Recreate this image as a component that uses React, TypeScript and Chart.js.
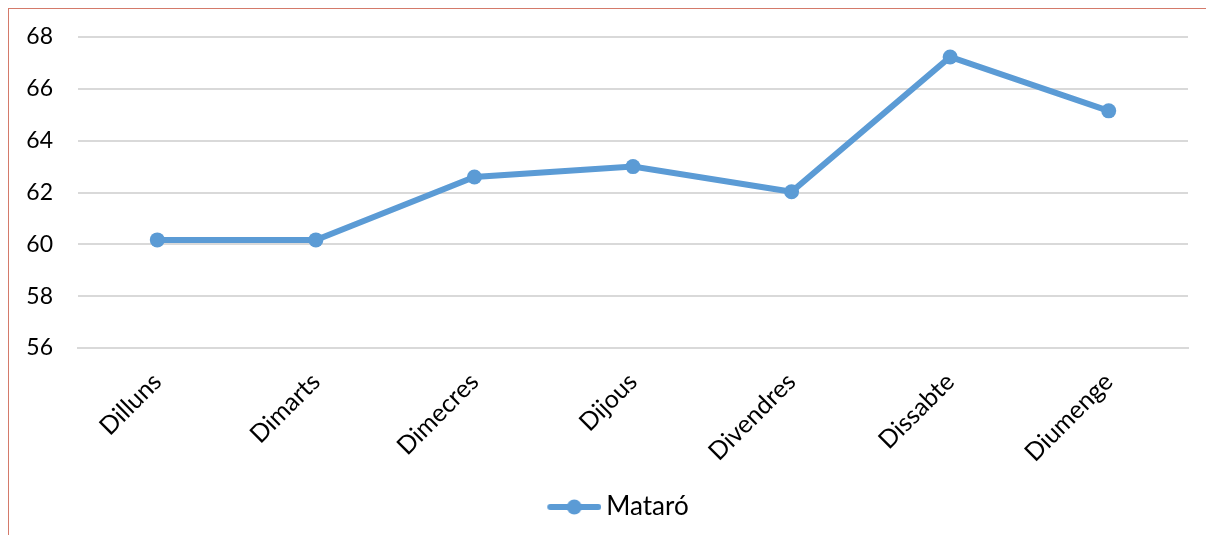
import React, { useEffect, useRef } from "react";
import { Chart, registerables } from "chart.js";

Chart.register(...registerables);

const categories = ["Dilluns", "Dimarts", "Dimecres", "Dijous", "Divendres", "Dissabte", "Diumenge"];
const seriesName = "Mataró";
const values = [60.17, 60.17, 62.6, 63.0, 62.03, 67.23, 65.15];
const yMin = 56;
const yMax = 68;
const yStep = 2;

const LINE_COLOR = "#5b9bd5";
const FONT = "Lato, 'Open Sans', sans-serif";

function makeLegendIcon(): HTMLCanvasElement {
  const c = document.createElement("canvas");
  c.width = 84;
  c.height = 18;
  const ctx = c.getContext("2d")!;
  ctx.strokeStyle = LINE_COLOR;
  ctx.lineWidth = 6;
  ctx.lineCap = "round";
  ctx.beginPath();
  ctx.moveTo(33, 9);
  ctx.lineTo(81, 9);
  ctx.stroke();
  ctx.fillStyle = LINE_COLOR;
  ctx.beginPath();
  ctx.arc(57, 9, 7.5, 0, Math.PI * 2);
  ctx.fill();
  return c;
}

export default function App() {
  const ref = useRef<HTMLCanvasElement | null>(null);
  useEffect(() => {
    if (!ref.current) return;
    const chart = new Chart(ref.current, {
      type: "line",
      data: {
        labels: categories,
        datasets: [
          {
            label: seriesName,
            data: values,
            borderColor: LINE_COLOR,
            backgroundColor: LINE_COLOR,
            borderWidth: 6,
            pointRadius: 7.5,
            pointHoverRadius: 7.5,
            pointBackgroundColor: LINE_COLOR,
            pointBorderWidth: 0,
            tension: 0,
          },
        ],
      },
      options: {
        responsive: false,
        animation: false,
        layout: { padding: { top: 28, right: 26, bottom: 5, left: 17 } },
        plugins: {
          tooltip: { enabled: false },
          legend: {
            position: "bottom",
            labels: {
              usePointStyle: true,
              pointStyle: makeLegendIcon(),
              pointStyleWidth: 68,
              padding: 10,
              color: "#000",
              font: { family: FONT, size: 26 },
            },
          },
        },
        scales: {
          x: {
            offset: true,
            grid: { display: false, drawTicks: false },
            border: { display: true, color: "#d9d9d9", width: 2 },
            ticks: {
              color: "#000",
              font: { family: FONT, size: 25 },
              minRotation: 45,
              maxRotation: 45,
              padding: 19,
            },
            afterFit: (scale: any) => {
              scale.height = 136;
              scale.paddingLeft = 0;
              scale.paddingRight = 0;
            },
          },
          y: {
            min: yMin,
            max: yMax,
            grid: { color: "#d9d9d9", lineWidth: 2, drawTicks: false },
            border: { display: false },
            ticks: {
              stepSize: yStep,
              color: "#000",
              font: { family: FONT, size: 23 },
              padding: 25,
            },
            afterFit: (scale: any) => {
              scale.width = 52;
              scale.paddingTop = 0;
              scale.paddingBottom = 0;
            },
          },
        },
      },
    });
    return () => chart.destroy();
  }, []);
  return (
    <div
      style={{
        borderLeft: "1px solid #d47a6a",
        borderTop: "1px solid #d47a6a",
        width: 1205,
        height: 526,
      }}
    >
      <canvas ref={ref} width={1205} height={526} style={{ display: "block" }} />
    </div>
  );
}
